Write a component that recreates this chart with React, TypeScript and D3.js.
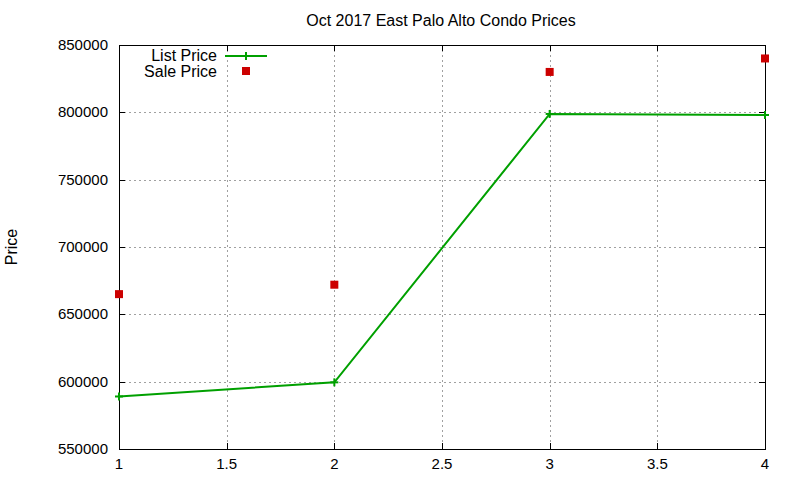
import React, { useEffect, useRef } from 'react';
import * as d3 from 'd3';

const xValues = [1, 2, 3, 4];
const listPrice = [589000, 599500, 798800, 798000];
const salePrice = [665000, 672000, 830000, 840000];
const xTicks = [1, 1.5, 2, 2.5, 3, 3.5, 4];
const yTicks = [550000, 600000, 650000, 700000, 750000, 800000, 850000];

const W = 800;
const H = 480;
const margin = { top: 45, right: 35, bottom: 31, left: 119 };
const FONT = '"Liberation Sans", Arial, sans-serif';

const App: React.FC = () => {
  const svgRef = useRef<SVGSVGElement | null>(null);

  useEffect(() => {
    if (!svgRef.current) return;
    const svg = d3.select(svgRef.current);
    svg.selectAll('*').remove();

    const x = d3.scaleLinear().domain([1, 4]).range([margin.left, W - margin.right]);
    const y = d3.scaleLinear().domain([550000, 850000]).range([H - margin.bottom, margin.top]);
    const [x0, x1] = x.range();
    const [y0, y1] = y.range();

    svg.append('rect').attr('width', W).attr('height', H).attr('fill', '#fff');

    // grid
    const grid = svg.append('g')
      .attr('stroke', '#a0a0a0')
      .attr('stroke-width', 1)
      .attr('stroke-dasharray', '2,3');
    xTicks.slice(1, -1).forEach(t => {
      grid.append('line')
        .attr('x1', Math.round(x(t)) + 0.5).attr('x2', Math.round(x(t)) + 0.5)
        .attr('y1', y1).attr('y2', y0);
    });
    yTicks.slice(1, -1).forEach(t => {
      grid.append('line')
        .attr('x1', x0).attr('x2', x1)
        .attr('y1', Math.round(y(t)) + 0.5).attr('y2', Math.round(y(t)) + 0.5);
    });

    // ticks (inward, mirrored)
    const ticks = svg.append('g').attr('stroke', '#000').attr('stroke-width', 1);
    const tl = 6;
    xTicks.forEach(t => {
      const px = Math.round(x(t)) + 0.5;
      ticks.append('line').attr('x1', px).attr('x2', px).attr('y1', y0).attr('y2', y0 - tl);
      ticks.append('line').attr('x1', px).attr('x2', px).attr('y1', y1).attr('y2', y1 + tl);
    });
    yTicks.forEach(t => {
      const py = Math.round(y(t)) + 0.5;
      ticks.append('line').attr('x1', x0).attr('x2', x0 + tl).attr('y1', py).attr('y2', py);
      ticks.append('line').attr('x1', x1).attr('x2', x1 - tl).attr('y1', py).attr('y2', py);
    });

    // border
    svg.append('rect')
      .attr('x', x0 + 0.5).attr('y', y1 + 0.5)
      .attr('width', x1 - x0).attr('height', y0 - y1)
      .attr('fill', 'none').attr('stroke', '#000').attr('stroke-width', 1);

    // tick labels
    const labels = svg.append('g').attr('font-family', FONT).attr('font-size', 15).attr('fill', '#000');
    xTicks.forEach(t => {
      labels.append('text')
        .attr('x', x(t)).attr('y', y0 + 20)
        .attr('text-anchor', 'middle')
        .text(d3.format('~g')(t));
    });
    yTicks.forEach(t => {
      labels.append('text')
        .attr('x', x0 - 11).attr('y', y(t) + 5)
        .attr('text-anchor', 'end')
        .text(String(t));
    });

    // title and axis label
    svg.append('text')
      .attr('x', 441).attr('y', 26)
      .attr('text-anchor', 'middle')
      .attr('font-family', FONT).attr('font-size', 16)
      .text('Oct 2017 East Palo Alto Condo Prices');
    svg.append('text')
      .attr('transform', `translate(17,${(y0 + y1) / 2}) rotate(-90)`)
      .attr('text-anchor', 'middle')
      .attr('font-family', FONT).attr('font-size', 16)
      .text('Price');

    const green = '#00a000';
    const red = '#cc0000';

    // list price line
    const line = d3.line<number>()
      .x((_, i) => x(xValues[i]))
      .y(d => y(d));
    svg.append('path')
      .datum(listPrice)
      .attr('d', line)
      .attr('fill', 'none')
      .attr('stroke', green)
      .attr('stroke-width', 2);

    const plus = (g: d3.Selection<SVGGElement, unknown, null, undefined>, cx: number, cy: number) => {
      g.append('line').attr('x1', cx - 4).attr('x2', cx + 4).attr('y1', cy).attr('y2', cy)
        .attr('stroke', green).attr('stroke-width', 2);
      g.append('line').attr('x1', cx).attr('x2', cx).attr('y1', cy - 4).attr('y2', cy + 4)
        .attr('stroke', green).attr('stroke-width', 2);
    };
    const marks = svg.append('g');
    listPrice.forEach((v, i) => plus(marks, x(xValues[i]), y(v)));

    // sale price squares
    svg.append('g')
      .selectAll('rect')
      .data(salePrice)
      .join('rect')
      .attr('x', (_, i) => x(xValues[i]) - 4)
      .attr('y', d => y(d) - 4)
      .attr('width', 8)
      .attr('height', 8)
      .attr('fill', red);

    // legend
    const legend = svg.append('g').attr('font-family', FONT).attr('font-size', 16);
    legend.append('text').attr('x', 217).attr('y', 61).attr('text-anchor', 'end').text('List Price');
    legend.append('text').attr('x', 217).attr('y', 77).attr('text-anchor', 'end').text('Sale Price');
    legend.append('line').attr('x1', 225).attr('x2', 267).attr('y1', 56).attr('y2', 56)
      .attr('stroke', green).attr('stroke-width', 2);
    plus(legend as any, 246, 56);
    legend.append('rect').attr('x', 242).attr('y', 67).attr('width', 8).attr('height', 8).attr('fill', red);
  }, []);

  return (
    <div style={{ position: 'absolute', left: 0, top: 0 }}>
      <svg ref={svgRef} width={W} height={H} style={{ display: 'block' }} />
    </div>
  );
};

export default App;
